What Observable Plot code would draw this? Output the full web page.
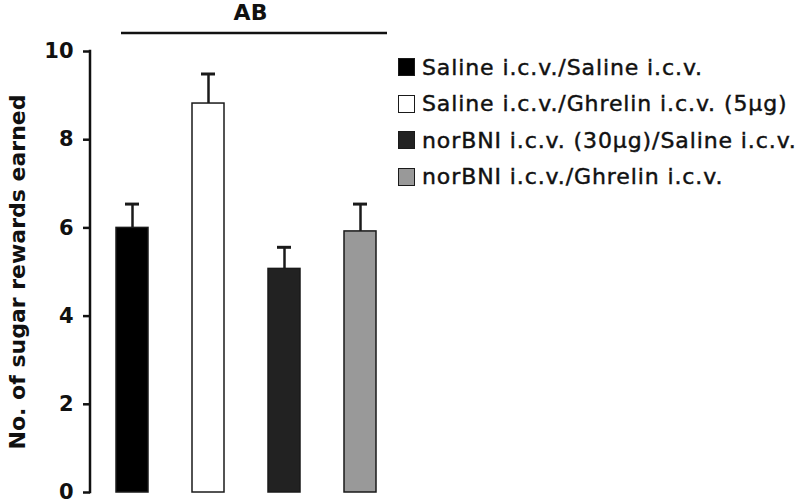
<!DOCTYPE html>
<html>
<head>
<meta charset="utf-8">
<script src="https://cdn.jsdelivr.net/npm/d3@7"></script>
<script src="https://cdn.jsdelivr.net/npm/@observablehq/plot@0.6"></script>
<style>
  html, body { margin: 0; padding: 0; background: #fff; }
  #wrap { position: relative; width: 798px; height: 504px; }
  #legend { position: absolute; left: 398px; top: 49px; font-family: "DejaVu Sans", sans-serif; font-size: 22px; letter-spacing: 0.9px; color: #111; -webkit-text-stroke: 0.45px #111; }
  .row { display: flex; align-items: center; height: 36.5px; white-space: nowrap; }
  .sw { width: 17px; height: 18px; box-sizing: border-box; border: 1.5px solid #1a1a1a; margin-right: 7px; flex: none; }
</style>
</head>
<body>
<div id="wrap"><div id="legend"></div></div>
<script>
const groups = [
  "Saline i.c.v./Saline i.c.v.",
  "Saline i.c.v./Ghrelin i.c.v. (5µg)",
  "norBNI i.c.v. (30µg)/Saline i.c.v.",
  "norBNI i.c.v./Ghrelin i.c.v."
];
const means = [6.0, 8.82, 5.07, 5.92];
const sems = [0.54, 0.67, 0.49, 0.62];
const colors = ["#000000", "#ffffff", "#222222", "#999999"];
const yTicks = [0, 2, 4, 6, 8, 10];
const yLabel = "No. of sugar rewards earned";
const sigLabel = "AB";
const sigLevel = 10.42;

const data = groups.map((g, i) => ({group: g, mean: means[i], sem: sems[i], top: means[i] + sems[i]}));

// y-axis domain line drawn from the y scale
const yAxisLine = (index, scales, values, dimensions) => {
  const line = document.createElementNS("http://www.w3.org/2000/svg", "line");
  const [y0, y1] = scales.y.domain ? [0, 10] : [0, 10];
  line.setAttribute("x1", dimensions.marginLeft);
  line.setAttribute("x2", dimensions.marginLeft);
  line.setAttribute("y1", scales.y(yTicks[0]) + 1.25);
  line.setAttribute("y2", scales.y(yTicks[yTicks.length - 1]) - 1.25);
  line.setAttribute("stroke", "#111");
  line.setAttribute("stroke-width", 2.5);
  return line;
};

const chart = Plot.plot({
  width: 798,
  height: 504,
  marginLeft: 90,
  marginRight: 396,
  marginTop: 51,
  marginBottom: 12,
  style: {fontFamily: "DejaVu Sans, sans-serif", fontWeight: "bold", color: "#111", background: "#fff"},
  x: {type: "band", domain: groups, paddingInner: 0.58, paddingOuter: 0.326, axis: null},
  y: {domain: [0, 10], axis: null},
  color: {domain: groups, range: colors},
  marks: [
    yAxisLine,
    Plot.axisY({ticks: yTicks, tickSize: 7, tickPadding: 10, fontSize: 21, strokeWidth: 2.5, label: null}),
    Plot.text([yLabel], {frameAnchor: "left", textAnchor: "middle", rotate: -90, dx: -73, fontSize: 22, fontWeight: "bold", fill: "#111"}),
    Plot.ruleX(data, {x: "group", y1: "mean", y2: "top", stroke: "#1a1a1a", strokeWidth: 2.5}),
    Plot.tickY(data, {x: "group", y: "top", insetLeft: 9, insetRight: 9, stroke: "#1a1a1a", strokeWidth: 3}),
    Plot.barY(data, {x: "group", y: "mean", fill: "group", stroke: "#1a1a1a", strokeWidth: 1.5}),
    Plot.ruleY([sigLevel], {y: d => d, x1: () => groups[0], x2: () => groups[groups.length - 1], insetLeft: 5, insetRight: -11, stroke: "#111", strokeWidth: 2.5, clip: false}),
    Plot.text([sigLabel], {frameAnchor: "top", lineAnchor: "middle", dx: 4, dy: -38.5, fontSize: 22, fontWeight: "bold", fill: "#111"})
  ]
});
document.getElementById("wrap").prepend(chart);

const legend = document.getElementById("legend");
groups.forEach((g, i) => {
  const row = document.createElement("div");
  row.className = "row";
  const sw = document.createElement("span");
  sw.className = "sw";
  sw.style.background = colors[i];
  const t = document.createElement("span");
  t.textContent = g;
  row.appendChild(sw);
  row.appendChild(t);
  legend.appendChild(row);
});
</script>
</body>
</html>
